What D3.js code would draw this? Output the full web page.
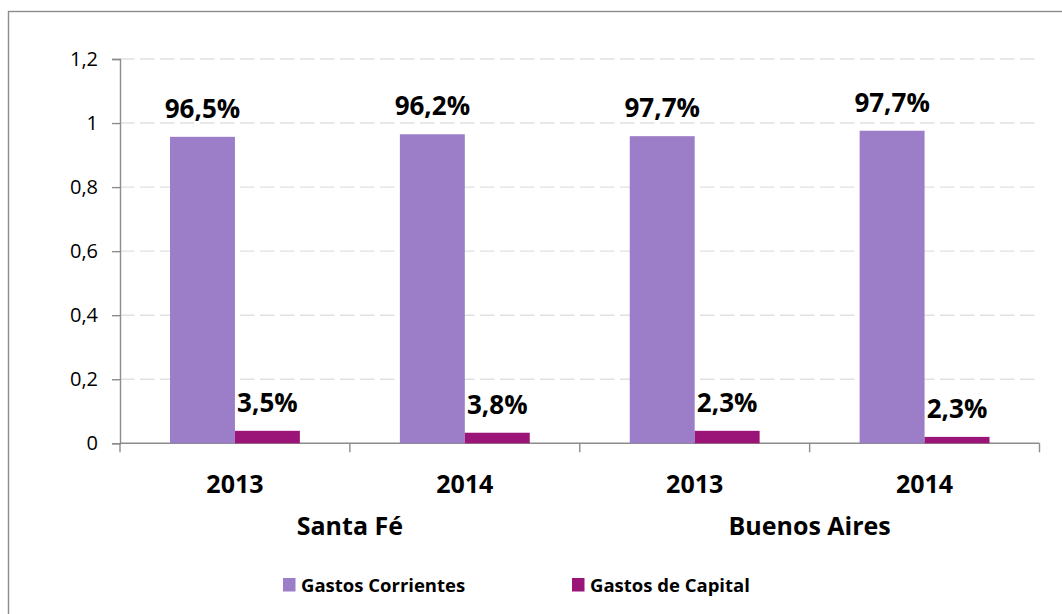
<!DOCTYPE html>
<html>
<head>
<meta charset="utf-8">
<script src="https://cdn.jsdelivr.net/npm/d3@7"></script>
<style>
  html, body { margin: 0; padding: 0; background: #fff; }
  svg { display: block; font-family: "Open Sans", "Noto Sans", sans-serif; }
</style>
</head>
<body>
<div id="chart"></div>
<script>
// datos
const provincias = ['Santa Fé', 'Buenos Aires'];
const anios = ['2013', '2014', '2013', '2014'];
const series = ['Gastos Corrientes', 'Gastos de Capital'];
const gastosCorrientes = [0.957, 0.965, 0.959, 0.976];
const gastosCapital = [0.039, 0.033, 0.039, 0.020];
const etiquetasCorrientes = ['96,5%', '96,2%', '97,7%', '97,7%'];
const etiquetasCapital = ['3,5%', '3,8%', '2,3%', '2,3%'];
const yTicks = [0, 0.2, 0.4, 0.6, 0.8, 1, 1.2];
const colores = ['#9b7ec7', '#9a1577'];

const width = 1062, height = 614;
const plot = { left: 120, right: 1039.5, top: 59, bottom: 443.3 };

const svg = d3.select('#chart')
    .append('svg')
    .attr('width', width)
    .attr('height', height);

// marco exterior
svg.append('rect')
    .attr('x', 8.5).attr('y', 11.5)
    .attr('width', 1200).attr('height', 800)
    .attr('fill', 'none')
    .attr('stroke', '#8c8c8c')
    .attr('stroke-width', 1.4);

const y = d3.scaleLinear().domain([0, 1.2]).range([plot.bottom, plot.top]);
const x0 = d3.scaleBand().domain(d3.range(anios.length)).range([plot.left, plot.right]);
const x1 = d3.scaleBand().domain(series).range([0, x0.bandwidth()]).paddingOuter(0.77);

// lineas de cuadricula
svg.append('g')
    .selectAll('line')
    .data(yTicks.filter(d => d > 0))
    .enter()
    .append('line')
    .attr('x1', plot.left).attr('x2', plot.right)
    .attr('y1', d => y(d)).attr('y2', d => y(d))
    .attr('stroke', '#e1e1e1')
    .attr('stroke-width', 1.4)
    .attr('stroke-dasharray', '14.5,5.5');

// eje y
const yAxis = d3.axisLeft(y)
    .tickValues(yTicks)
    .tickSize(8)
    .tickPadding(14)
    .tickFormat(d => String(d).replace('.', ','));

const gy = svg.append('g')
    .attr('transform', `translate(${plot.left},0)`)
    .call(yAxis);
gy.select('.domain').attr('stroke', '#8c8c8c').attr('stroke-width', 1.4);
gy.selectAll('.tick line').attr('stroke', '#8c8c8c').attr('stroke-width', 1.4);
gy.selectAll('.tick text')
    .attr('font-family', '"Open Sans", sans-serif')
    .attr('font-size', 20)
    .attr('fill', '#000');

// eje x
svg.append('line')
    .attr('x1', plot.left).attr('x2', plot.right)
    .attr('y1', plot.bottom).attr('y2', plot.bottom)
    .attr('stroke', '#8c8c8c').attr('stroke-width', 1.4);

const bordes = d3.range(anios.length + 1).map(i => i < anios.length ? x0(i) : x0(i - 1) + x0.bandwidth());
svg.append('g')
    .selectAll('line')
    .data(bordes)
    .enter()
    .append('line')
    .attr('x1', d => d).attr('x2', d => d)
    .attr('y1', plot.bottom).attr('y2', plot.bottom + 9)
    .attr('stroke', '#8c8c8c').attr('stroke-width', 1.4);

// barras
const grupos = svg.append('g')
    .selectAll('g')
    .data(anios.map((a, i) => i))
    .enter()
    .append('g')
    .attr('transform', i => `translate(${x0(i)},0)`);

const valores = [gastosCorrientes, gastosCapital];
const etiquetas = [etiquetasCorrientes, etiquetasCapital];

series.forEach((s, k) => {
    grupos.append('rect')
        .attr('x', x1(s))
        .attr('width', x1.bandwidth())
        .attr('y', i => y(valores[k][i]))
        .attr('height', i => plot.bottom - y(valores[k][i]))
        .attr('fill', colores[k]);

    grupos.append('text')
        .attr('x', x1(s) + x1.bandwidth() / 2)
        .attr('y', i => y(valores[k][i]) - 19)
        .attr('text-anchor', 'middle')
        .attr('font-size', 26)
        .attr('font-weight', 'bold')
        .attr('fill', '#000')
        .text(i => etiquetas[k][i]);
});

// etiquetas de año
grupos.append('text')
    .attr('x', x0.bandwidth() / 2)
    .attr('y', 493)
    .attr('text-anchor', 'middle')
    .attr('font-size', 25)
    .attr('font-weight', 'bold')
    .text(i => anios[i]);

// etiquetas de provincia
svg.append('g')
    .selectAll('text')
    .data(provincias)
    .enter()
    .append('text')
    .attr('x', (d, j) => x0(j * 2 + 1))
    .attr('y', 535)
    .attr('text-anchor', 'middle')
    .attr('font-size', 25)
    .attr('font-weight', 'bold')
    .text(d => d);

// leyenda
const leyendaX = [283, 572];
const leyenda = svg.append('g')
    .selectAll('g')
    .data(series)
    .enter()
    .append('g')
    .attr('transform', (d, i) => `translate(${leyendaX[i]},578)`);

leyenda.append('rect')
    .attr('width', 12.5).attr('height', 13.5)
    .attr('fill', (d, i) => colores[i]);

leyenda.append('text')
    .attr('x', 18)
    .attr('y', 13.5)
    .attr('font-size', 18.5)
    .attr('font-weight', 'bold')
    .text(d => d);
</script>
</body>
</html>
